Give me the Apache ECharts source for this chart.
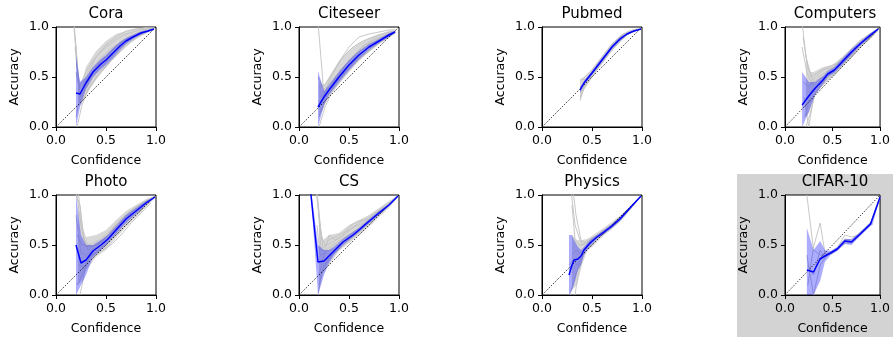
<!DOCTYPE html>
<html>
<head>
<meta charset="utf-8">
<script src="https://cdn.jsdelivr.net/npm/echarts@6/dist/echarts.min.js"></script>
<style>html,body{margin:0;padding:0;background:#fff;}#c{width:893px;height:337px;}</style>
</head>
<body>
<div id="c"></div>
<script>
// ---------- DATA ----------
const panelTitles = ['Cora','Citeseer','Pubmed','Computers','Photo','CS','Physics','CIFAR-10'];
const tickValues = [0, 0.5, 1.0];
const diagonal = [[0, 0], [1, 1]];

// Cora
const coraMean = [[0.2,0.34],[0.24,0.33],[0.3,0.44],[0.37,0.55],[0.45,0.63],[0.5,0.67],[0.57,0.74],[0.64,0.81],[0.7,0.86],[0.77,0.9],[0.85,0.94],[0.92,0.96],[0.98,0.98]];
const coraBand = [[0.2,0,0.72],[0.24,0.2,0.45],[0.3,0.38,0.5],[0.37,0.5,0.6],[0.45,0.58,0.68],[0.5,0.62,0.72],[0.57,0.69,0.79],[0.64,0.77,0.85],[0.7,0.83,0.89],[0.77,0.88,0.92],[0.85,0.925,0.955],[0.92,0.95,0.97],[0.98,0.975,0.985]];
const coraCloud = [[0.22,0.25,0.55],[0.25,0.22,0.42],[0.3,0.32,0.6],[0.4,0.47,0.76],[0.5,0.6,0.86],[0.6,0.71,0.93],[0.7,0.81,0.96],[0.8,0.88,0.985],[0.9,0.935,0.995],[0.98,0.97,0.99]];
const coraGray = [
 [[0.18,1.05],[0.24,0.3],[0.3,0.5],[0.4,0.7],[0.5,0.82],[0.6,0.9],[0.7,0.96],[0.8,0.98],[0.9,0.99],[0.98,0.99]],
 [[0.19,0.9],[0.24,0.25],[0.3,0.38],[0.4,0.55],[0.5,0.65],[0.6,0.76],[0.7,0.85],[0.8,0.91],[0.9,0.95],[0.98,0.98]],
 [[0.2,0.1],[0.25,0.35],[0.32,0.48],[0.4,0.6],[0.5,0.7],[0.6,0.8],[0.7,0.88],[0.8,0.93],[0.9,0.96],[0.98,0.98]],
 [[0.21,0.0],[0.26,0.22],[0.33,0.4],[0.42,0.52],[0.5,0.6],[0.6,0.72],[0.7,0.83],[0.8,0.9],[0.9,0.95],[0.98,0.98]],
 [[0.18,1.0],[0.23,0.4],[0.3,0.55],[0.38,0.68],[0.48,0.78],[0.58,0.86],[0.68,0.92],[0.8,0.96],[0.9,0.98],[0.98,0.99]],
 [[0.2,0.55],[0.25,0.3],[0.32,0.45],[0.42,0.63],[0.52,0.73],[0.62,0.83],[0.72,0.89],[0.82,0.94],[0.92,0.97],[0.98,0.98]],
 [[0.22,0.2],[0.28,0.3],[0.35,0.42],[0.45,0.56],[0.55,0.66],[0.65,0.76],[0.75,0.85],[0.85,0.92],[0.95,0.97]],
 [[0.19,0.8],[0.24,0.32],[0.3,0.45],[0.36,0.58],[0.46,0.7],[0.56,0.79],[0.66,0.86],[0.76,0.92],[0.86,0.96],[0.97,0.98]]
];

// Citeseer
const citeseerMean = [[0.19,0.2],[0.25,0.3],[0.3,0.37],[0.4,0.5],[0.5,0.62],[0.6,0.72],[0.7,0.8],[0.8,0.86],[0.9,0.92],[0.96,0.95]];
const citeseerBand = [[0.19,0,0.56],[0.25,0.22,0.36],[0.3,0.32,0.42],[0.4,0.45,0.55],[0.5,0.57,0.67],[0.6,0.68,0.76],[0.7,0.77,0.83],[0.8,0.84,0.88],[0.9,0.9,0.94],[0.96,0.94,0.96]];
const citeseerCloud = [[0.2,0.1,0.45],[0.25,0.2,0.42],[0.3,0.3,0.5],[0.4,0.43,0.66],[0.5,0.55,0.77],[0.6,0.66,0.84],[0.7,0.75,0.89],[0.8,0.83,0.93],[0.9,0.89,0.96],[0.97,0.94,0.97]];
const citeseerGray = [
 [[0.19,1.05],[0.25,0.32],[0.32,0.5],[0.4,0.65],[0.5,0.8],[0.6,0.9],[0.7,0.93],[0.8,0.95],[0.9,0.97],[0.97,0.97]],
 [[0.2,0.1],[0.25,0.25],[0.3,0.33],[0.4,0.47],[0.5,0.58],[0.6,0.68],[0.7,0.76],[0.8,0.84],[0.9,0.9],[0.96,0.94]],
 [[0.19,0.5],[0.25,0.38],[0.32,0.45],[0.42,0.58],[0.52,0.68],[0.62,0.77],[0.72,0.84],[0.82,0.89],[0.92,0.93],[0.97,0.96]],
 [[0.2,0.0],[0.26,0.2],[0.33,0.35],[0.43,0.48],[0.53,0.6],[0.63,0.7],[0.73,0.78],[0.83,0.86],[0.93,0.92]],
 [[0.21,0.3],[0.27,0.33],[0.35,0.45],[0.45,0.6],[0.55,0.72],[0.65,0.82],[0.75,0.88],[0.85,0.91],[0.95,0.95]],
 [[0.19,0.25],[0.24,0.28],[0.3,0.4],[0.38,0.52],[0.48,0.64],[0.58,0.75],[0.68,0.83],[0.78,0.88],[0.88,0.92],[0.96,0.96]],
 [[0.22,0.15],[0.28,0.3],[0.36,0.43],[0.46,0.55],[0.56,0.66],[0.66,0.74],[0.76,0.82],[0.86,0.89],[0.95,0.94]],
 [[0.2,0.4],[0.26,0.42],[0.34,0.55],[0.44,0.7],[0.54,0.8],[0.64,0.86],[0.74,0.9],[0.84,0.93],[0.94,0.96]]
];

// Pubmed
const pubmedMean = [[0.38,0.37],[0.42,0.44],[0.5,0.54],[0.6,0.67],[0.7,0.8],[0.78,0.88],[0.85,0.93],[0.92,0.96],[0.99,0.98]];
const pubmedBand = [[0.38,0.34,0.4],[0.42,0.42,0.46],[0.5,0.52,0.56],[0.6,0.65,0.69],[0.7,0.78,0.82],[0.78,0.86,0.9],[0.85,0.92,0.94],[0.92,0.955,0.965],[0.99,0.975,0.985]];
const pubmedCloud = [[0.38,0.25,0.48],[0.42,0.38,0.5],[0.5,0.5,0.58],[0.6,0.63,0.71],[0.7,0.76,0.84],[0.8,0.87,0.93],[0.88,0.94,0.97],[0.96,0.97,0.985],[0.99,0.975,0.985]];
const pubmedGray = [
 [[0.38,0.27],[0.42,0.4],[0.5,0.52],[0.6,0.66],[0.7,0.79],[0.8,0.9],[0.88,0.95],[0.95,0.97],[0.99,0.98]],
 [[0.38,0.45],[0.42,0.49],[0.5,0.57],[0.6,0.7],[0.7,0.83],[0.8,0.92],[0.88,0.96],[0.95,0.98]],
 [[0.39,0.35],[0.43,0.43],[0.5,0.53],[0.6,0.68],[0.7,0.81],[0.8,0.91],[0.88,0.95],[0.96,0.97]],
 [[0.4,0.48],[0.44,0.47],[0.52,0.57],[0.62,0.7],[0.72,0.83],[0.82,0.92],[0.9,0.96],[0.98,0.98]],
 [[0.38,0.3],[0.42,0.38],[0.5,0.5],[0.6,0.64],[0.7,0.77],[0.8,0.88],[0.88,0.94],[0.96,0.97]]
];

// Computers
const computersMean = [[0.18,0.22],[0.25,0.31],[0.32,0.39],[0.4,0.47],[0.45,0.53],[0.52,0.57],[0.6,0.65],[0.7,0.75],[0.8,0.84],[0.9,0.92],[0.98,0.98]];
const computersBand = [[0.18,0,0.55],[0.25,0.15,0.45],[0.32,0.33,0.45],[0.4,0.43,0.51],[0.45,0.5,0.56],[0.52,0.54,0.6],[0.6,0.62,0.68],[0.7,0.72,0.78],[0.8,0.82,0.86],[0.9,0.9,0.94],[0.98,0.97,0.99]];
const computersCloud = [[0.22,0.1,0.7],[0.26,0.15,0.55],[0.3,0.3,0.55],[0.4,0.42,0.6],[0.5,0.5,0.62],[0.6,0.6,0.7],[0.7,0.7,0.79],[0.8,0.8,0.88],[0.9,0.88,0.94],[0.98,0.96,0.99]];
const computersGray = [
 [[0.18,1.05],[0.22,0.7],[0.28,0.5],[0.35,0.55],[0.45,0.6],[0.55,0.64],[0.65,0.72],[0.75,0.8],[0.85,0.88],[0.95,0.95],[0.99,0.98]],
 [[0.19,0.9],[0.24,0.6],[0.3,0.45],[0.4,0.5],[0.5,0.56],[0.6,0.64],[0.7,0.74],[0.8,0.83],[0.9,0.91],[0.98,0.97]],
 [[0.2,0.3],[0.25,0.0],[0.3,0.3],[0.4,0.44],[0.5,0.53],[0.6,0.62],[0.7,0.72],[0.8,0.81],[0.9,0.9],[0.98,0.97]],
 [[0.21,0.1],[0.27,0.35],[0.33,0.42],[0.42,0.5],[0.52,0.58],[0.62,0.67],[0.72,0.77],[0.82,0.86],[0.92,0.93],[0.99,0.98]],
 [[0.19,0.45],[0.25,0.4],[0.32,0.5],[0.4,0.57],[0.5,0.6],[0.6,0.68],[0.7,0.78],[0.8,0.87],[0.9,0.93],[0.98,0.98]],
 [[0.2,0.2],[0.26,0.25],[0.34,0.36],[0.44,0.46],[0.54,0.55],[0.64,0.64],[0.74,0.74],[0.84,0.84],[0.94,0.93]],
 [[0.18,0.8],[0.23,0.55],[0.29,0.42],[0.38,0.52],[0.48,0.58],[0.58,0.65],[0.68,0.73],[0.78,0.82],[0.88,0.9],[0.97,0.97]],
 [[0.22,0.0],[0.27,0.15],[0.32,0.35],[0.4,0.45],[0.5,0.55],[0.6,0.63],[0.7,0.73],[0.8,0.83],[0.9,0.91]]
];

// Photo
const photoMean = [[0.2,0.5],[0.25,0.32],[0.3,0.35],[0.37,0.44],[0.45,0.5],[0.52,0.56],[0.6,0.65],[0.7,0.76],[0.8,0.84],[0.9,0.92],[0.99,0.98]];
const photoBand = [[0.2,0,1.0],[0.25,0.1,0.6],[0.3,0.2,0.5],[0.37,0.38,0.5],[0.45,0.45,0.55],[0.52,0.52,0.6],[0.6,0.61,0.69],[0.7,0.72,0.8],[0.8,0.81,0.87],[0.9,0.9,0.94],[0.99,0.975,0.985]];
const photoCloud = [[0.22,0.1,0.95],[0.26,0.15,0.7],[0.3,0.25,0.58],[0.4,0.38,0.6],[0.5,0.45,0.65],[0.6,0.57,0.75],[0.7,0.68,0.84],[0.8,0.78,0.9],[0.9,0.88,0.96],[0.99,0.97,0.99]];
const photoGray = [
 [[0.2,1.05],[0.25,0.7],[0.3,0.48],[0.4,0.5],[0.5,0.58],[0.6,0.7],[0.7,0.8],[0.8,0.88],[0.9,0.94],[0.99,0.99]],
 [[0.22,1.05],[0.27,0.6],[0.32,0.45],[0.42,0.52],[0.52,0.6],[0.62,0.72],[0.72,0.82],[0.82,0.88],[0.92,0.95],[0.99,0.99]],
 [[0.21,0.1],[0.26,0.2],[0.32,0.35],[0.4,0.42],[0.5,0.5],[0.6,0.62],[0.7,0.72],[0.8,0.82],[0.9,0.9],[0.99,0.98]],
 [[0.2,0.8],[0.25,0.42],[0.3,0.4],[0.38,0.47],[0.48,0.55],[0.58,0.66],[0.68,0.76],[0.78,0.85],[0.88,0.92],[0.98,0.98]],
 [[0.23,0.3],[0.28,0.28],[0.34,0.38],[0.44,0.46],[0.54,0.54],[0.64,0.64],[0.74,0.74],[0.84,0.83],[0.94,0.93]],
 [[0.21,0.6],[0.26,0.5],[0.33,0.5],[0.43,0.55],[0.53,0.63],[0.63,0.74],[0.73,0.83],[0.83,0.9],[0.93,0.96]],
 [[0.24,0.0],[0.29,0.25],[0.35,0.4],[0.45,0.44],[0.55,0.5],[0.65,0.6],[0.75,0.72],[0.85,0.82],[0.95,0.92]],
 [[0.2,1.0],[0.24,0.9],[0.28,0.55],[0.35,0.48],[0.45,0.53],[0.55,0.62],[0.65,0.73],[0.75,0.83],[0.85,0.9],[0.95,0.96]]
];

// CS
const csMean = [[0.115,1.05],[0.14,0.8],[0.19,0.33],[0.25,0.34],[0.3,0.39],[0.35,0.44],[0.44,0.53],[0.54,0.6],[0.6,0.65],[0.68,0.72],[0.8,0.82],[0.9,0.9],[0.99,0.99]];
const csBand = [[0.125,0.95,1.0],[0.14,0.7,0.9],[0.19,0.0,0.5],[0.25,0.2,0.45],[0.3,0.32,0.45],[0.35,0.4,0.48],[0.44,0.5,0.56],[0.54,0.58,0.63],[0.6,0.63,0.67],[0.68,0.7,0.74],[0.8,0.8,0.84],[0.9,0.89,0.91],[0.99,0.985,0.995]];
const csCloud = [[0.2,0.05,0.75],[0.24,0.22,0.55],[0.3,0.3,0.6],[0.4,0.44,0.62],[0.5,0.52,0.7],[0.6,0.6,0.75],[0.7,0.68,0.8],[0.8,0.78,0.87],[0.9,0.87,0.94],[0.99,0.98,0.995]];
const csGray = [
 [[0.17,1.05],[0.2,0.8],[0.24,0.47],[0.3,0.55],[0.4,0.6],[0.5,0.65],[0.6,0.72],[0.7,0.78],[0.8,0.85],[0.9,0.92],[0.99,0.99]],
 [[0.18,1.05],[0.22,0.6],[0.26,0.5],[0.32,0.52],[0.42,0.58],[0.52,0.7],[0.6,0.74],[0.7,0.76],[0.8,0.84],[0.9,0.91],[0.99,0.99]],
 [[0.19,0.0],[0.23,0.25],[0.28,0.33],[0.35,0.42],[0.45,0.5],[0.55,0.58],[0.65,0.67],[0.75,0.76],[0.85,0.85],[0.95,0.95]],
 [[0.2,0.1],[0.25,0.3],[0.3,0.37],[0.38,0.45],[0.48,0.54],[0.58,0.62],[0.68,0.71],[0.78,0.8],[0.88,0.88],[0.97,0.97]],
 [[0.19,0.9],[0.22,0.45],[0.27,0.45],[0.34,0.5],[0.44,0.57],[0.54,0.63],[0.64,0.7],[0.74,0.78],[0.84,0.86],[0.94,0.94]],
 [[0.18,0.7],[0.21,0.4],[0.26,0.42],[0.33,0.47],[0.43,0.55],[0.53,0.62],[0.63,0.69],[0.73,0.76],[0.83,0.84],[0.93,0.93]],
 [[0.2,0.2],[0.24,0.36],[0.3,0.6],[0.36,0.55],[0.45,0.6],[0.55,0.68],[0.65,0.72],[0.75,0.8],[0.85,0.88],[0.95,0.96]]
];

// Physics
const physicsMean = [[0.27,0.2],[0.3,0.3],[0.32,0.35],[0.36,0.36],[0.39,0.39],[0.42,0.45],[0.48,0.52],[0.55,0.58],[0.62,0.63],[0.7,0.69],[0.78,0.76],[0.88,0.87],[0.99,0.99]];
const physicsBand = [[0.27,0,0.6],[0.3,0.05,0.6],[0.32,0.1,0.55],[0.36,0.25,0.48],[0.39,0.3,0.45],[0.42,0.4,0.48],[0.48,0.49,0.55],[0.55,0.56,0.6],[0.62,0.61,0.65],[0.7,0.67,0.71],[0.78,0.74,0.78],[0.88,0.86,0.88],[0.99,0.985,0.995]];
const physicsCloud = [[0.3,0.05,0.6],[0.35,0.1,0.55],[0.4,0.3,0.55],[0.45,0.44,0.56],[0.5,0.48,0.59],[0.6,0.58,0.66],[0.7,0.66,0.73],[0.8,0.75,0.81],[0.9,0.87,0.91],[0.99,0.985,0.995]];
const physicsGray = [
 [[0.29,1.05],[0.33,0.7],[0.38,0.55],[0.44,0.52],[0.5,0.56],[0.6,0.63],[0.7,0.7],[0.8,0.79],[0.9,0.89],[0.99,0.99]],
 [[0.31,1.05],[0.34,0.8],[0.4,0.5],[0.46,0.55],[0.55,0.6],[0.65,0.66],[0.75,0.74],[0.85,0.84],[0.95,0.95]],
 [[0.28,0.0],[0.32,0.15],[0.37,0.3],[0.43,0.45],[0.5,0.5],[0.6,0.6],[0.7,0.68],[0.8,0.77],[0.9,0.88],[0.99,0.99]],
 [[0.3,0.4],[0.34,0.45],[0.38,0.42],[0.44,0.48],[0.52,0.55],[0.62,0.62],[0.72,0.7],[0.82,0.8],[0.92,0.91]],
 [[0.33,0.0],[0.36,0.2],[0.4,0.35],[0.45,0.5],[0.52,0.57],[0.62,0.65],[0.72,0.72],[0.82,0.81],[0.92,0.92]],
 [[0.3,0.9],[0.33,0.55],[0.37,0.5],[0.42,0.5],[0.48,0.55],[0.58,0.62],[0.68,0.69],[0.78,0.78],[0.88,0.88],[0.98,0.98]],
 [[0.27,0.3],[0.31,0.35],[0.35,0.3],[0.4,0.38],[0.46,0.5],[0.56,0.58],[0.66,0.66],[0.76,0.75],[0.86,0.85],[0.96,0.96]]
];

// CIFAR-10
const cifarMean = [[0.23,0.25],[0.3,0.23],[0.37,0.36],[0.42,0.39],[0.48,0.42],[0.55,0.46],[0.63,0.54],[0.7,0.53],[0.78,0.6],[0.9,0.71],[0.92,0.72],[1.0,0.98]];
const cifarBand = [[0.23,0,0.67],[0.3,0,0.45],[0.37,0.14,0.54],[0.42,0.33,0.45],[0.48,0.4,0.44],[0.55,0.44,0.48],[0.63,0.51,0.56],[0.7,0.5,0.56],[0.78,0.58,0.62],[0.9,0.69,0.73],[0.92,0.7,0.74],[1.0,0.97,0.99]];
const cifarCloud = [];
const cifarGray = [
 [[0.23,1.0],[0.3,0.45],[0.37,0.4],[0.42,0.4],[0.48,0.43],[0.55,0.47],[0.63,0.56],[0.7,0.55],[0.78,0.62],[0.9,0.72],[1.0,0.98]],
 [[0.24,0.1],[0.3,0.48],[0.37,0.72],[0.42,0.42],[0.48,0.41],[0.55,0.45],[0.63,0.52],[0.7,0.52],[0.78,0.59],[0.9,0.7],[1.0,0.97]],
 [[0.23,0.4],[0.3,0.0],[0.37,0.3],[0.42,0.37],[0.48,0.42],[0.55,0.46],[0.63,0.55],[0.7,0.54],[0.78,0.61],[0.9,0.72],[1.0,0.98]],
 [[0.24,0.3],[0.3,0.2],[0.37,0.45],[0.42,0.38],[0.48,0.43],[0.55,0.47],[0.63,0.6],[0.7,0.58],[0.78,0.6],[0.9,0.71],[1.0,0.98]]
];

const panelMeans = [coraMean, citeseerMean, pubmedMean, computersMean, photoMean, csMean, physicsMean, cifarMean];
const panelBands = [coraBand, citeseerBand, pubmedBand, computersBand, photoBand, csBand, physicsBand, cifarBand];
const panelClouds = [coraCloud, citeseerCloud, pubmedCloud, computersCloud, photoCloud, csCloud, physicsCloud, cifarCloud];
const panelGrays = [coraGray, citeseerGray, pubmedGray, computersGray, photoGray, csGray, physicsGray, cifarGray];

// ---------- LAYOUT ----------
const FONT = 'DejaVu Sans';
const colLefts = [56, 299, 542, 785];
const rowTops = [27, 195];
const SIZE = 100;

const grids = [], xAxes = [], yAxes = [], series = [], graphics = [];

graphics.push({type:'rect', z:-1, shape:{x:737, y:174, width:170, height:170}, style:{fill:'#d3d3d3'}});

function bandSeries(i, band, fill, z) {
  return {type: 'custom', xAxisIndex: i, yAxisIndex: i, data: [[0.5, 0.5]], silent: true, z: z, clip: true,
    renderItem: (params, api) => {
      const pts = [];
      band.forEach(b => pts.push(api.coord([b[0], b[2]])));
      for (let k = band.length - 1; k >= 0; k--) pts.push(api.coord([band[k][0], band[k][1]]));
      return {type: 'polygon', shape: {points: pts}, style: {fill: fill}};
    }};
}

panelTitles.forEach((t, i) => {
  const col = i % 4, row = Math.floor(i / 4);
  const left = colLefts[col], top = rowTops[row];
  grids.push({left: left, top: top, width: SIZE, height: SIZE, show: true, borderColor: '#000', borderWidth: 1, backgroundColor: '#fff', containLabel: false});
  const axisCommon = {
    type: 'value', min: tickValues[0], max: tickValues[tickValues.length-1], interval: 0.5, gridIndex: i,
    axisLine: {show: true, onZero: false, lineStyle: {color: '#000', width: 1}},
    axisTick: {show: true, inside: false, length: 4, lineStyle: {color: '#000', width: 1}},
    axisLabel: {color: '#000', fontSize: 12.5, fontFamily: FONT, formatter: v => v.toFixed(1), showMinLabel: true, showMaxLabel: true},
    splitLine: {show: false},
    nameLocation: 'middle',
    nameTextStyle: {color: '#000', fontSize: 12.5, fontFamily: FONT}
  };
  xAxes.push(Object.assign({}, axisCommon, {name: 'Confidence', nameGap: 27, axisLabel: Object.assign({}, axisCommon.axisLabel, {margin: 7})}));
  yAxes.push(Object.assign({}, axisCommon, {name: 'Accuracy', nameGap: 35, axisLabel: Object.assign({}, axisCommon.axisLabel, {margin: 7})}));

  graphics.push({type: 'text', z: 10, x: left + SIZE / 2, y: top - 13,
    style: {text: t, fill: '#000', font: '15px "' + FONT + '"', align: 'center', verticalAlign: 'middle', textAlign: 'center', textVerticalAlign: 'middle'}});

  if (panelClouds[i].length) series.push(bandSeries(i, panelClouds[i], '#d8d8d8', 1));

  panelGrays[i].forEach(g => {
    series.push({type: 'line', xAxisIndex: i, yAxisIndex: i, data: g, showSymbol: false, symbol: 'none', silent: true, z: 1,
      lineStyle: {color: '#c2c2c2', width: 1, opacity: 0.9}, clip: true});
  });

  series.push(bandSeries(i, panelBands[i], 'rgba(0,0,255,0.32)', 2));

  series.push({type: 'line', xAxisIndex: i, yAxisIndex: i, data: diagonal, showSymbol: false, symbol: 'none', silent: true, z: 3,
    lineStyle: {color: '#000', width: 1, type: [1, 1.6]}});

  series.push({type: 'line', xAxisIndex: i, yAxisIndex: i, data: panelMeans[i], showSymbol: false, symbol: 'none', silent: true, z: 4,
    lineStyle: {color: '#0000ff', width: 1.5}, clip: true});
});

const chart = echarts.init(document.getElementById('c'), null, {renderer: 'canvas'});
chart.setOption({
  animation: false,
  backgroundColor: '#fff',
  textStyle: {fontFamily: FONT},
  grid: grids, xAxis: xAxes, yAxis: yAxes, series: series, graphic: graphics
});
</script>
</body>
</html>
